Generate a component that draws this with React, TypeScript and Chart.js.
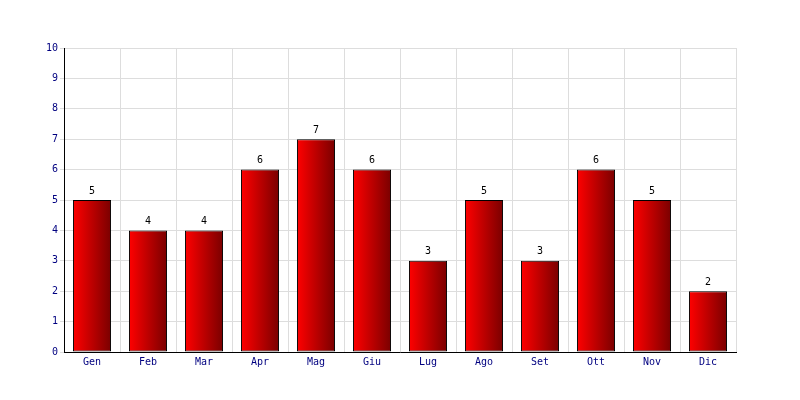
import React, { useEffect, useRef } from "react";
import { Chart, registerables } from "chart.js";

Chart.register(...registerables);

const categories = ["Gen", "Feb", "Mar", "Apr", "Mag", "Giu", "Lug", "Ago", "Set", "Ott", "Nov", "Dic"];
const values = [5, 4, 4, 6, 7, 6, 3, 5, 3, 6, 5, 2];
const yMin = 0;
const yMax = 10;

const FONT = "'DejaVu Sans Mono', monospace";

const valueLabels = {
  id: "valueLabels",
  afterDatasetsDraw(chart: any) {
    const ctx = chart.ctx;
    const meta = chart.getDatasetMeta(0);
    ctx.save();
    ctx.font = `10px ${FONT}`;
    ctx.fillStyle = "#000";
    ctx.textAlign = "center";
    ctx.textBaseline = "bottom";
    meta.data.forEach((bar: any, i: number) => {
      ctx.fillText(String(values[i]), bar.x, bar.y - 4);
    });
    ctx.restore();
  },
};

export default function App() {
  const ref = useRef<HTMLCanvasElement>(null);
  useEffect(() => {
    document.body.style.margin = "0";
    const chart = new Chart(ref.current!, {
      type: "bar",
      data: {
        labels: categories,
        datasets: [
          {
            data: values,
            backgroundColor: (c: any) => {
              const ch = c.chart;
              const xs = ch.scales?.x;
              if (!xs || c.dataIndex === undefined) return "#d00";
              const cx = xs.getPixelForValue(c.dataIndex);
              if (!Number.isFinite(cx)) return "#d00";
              const half = 19;
              const g = ch.ctx.createLinearGradient(cx - half, 0, cx + half, 0);
              g.addColorStop(0, "#ff0000");
              g.addColorStop(1, "#7a0000");
              return g;
            },
            borderColor: "#000",
            borderWidth: 1,
            borderSkipped: false,
            categoryPercentage: 1,
            barPercentage: 0.68,
          },
        ],
      },
      options: {
        animation: false,
        responsive: false,
        layout: { padding: { top: 48, right: 64, left: 0, bottom: 0 } },
        plugins: { legend: { display: false }, tooltip: { enabled: false } },
        scales: {
          x: {
            grid: { color: "#dddddd", drawTicks: false, offset: true },
            border: { color: "#000", width: 1 },
            ticks: { color: "#000080", font: { family: FONT, size: 10 }, padding: 4, maxRotation: 0 },
            afterFit: (s: any) => { s.height = 48; },
          },
          y: {
            min: yMin,
            max: yMax,
            grid: { color: "#dddddd", tickLength: 4 },
            border: { color: "#000", width: 1 },
            ticks: { stepSize: 1, color: "#000080", font: { family: FONT, size: 10 }, padding: 2 },
            afterFit: (s: any) => { s.width = 64; },
          },
        },
      },
      plugins: [valueLabels],
    });
    return () => chart.destroy();
  }, []);
  return <canvas ref={ref} width={800} height={400} style={{ display: "block" }} />;
}
